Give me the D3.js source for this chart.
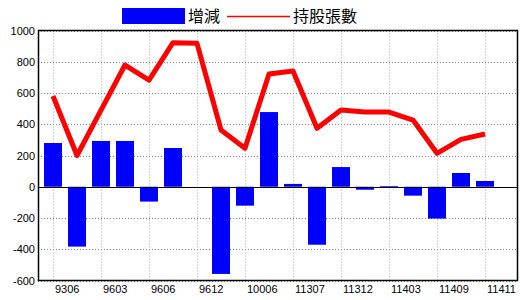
<!DOCTYPE html>
<html>
<head>
<meta charset="utf-8">
<title>持股張數</title>
<script src="https://cdn.jsdelivr.net/npm/d3@7"></script>
<style>
  body { margin: 0; background: #fff; }
  text { font-family: "Liberation Sans", Arial, sans-serif; }
</style>
</head>
<body>
<div id="chart"></div>
<script>
// periods (ROC year + month); only every other one is labelled on the axis
var periods = ["9306", "9312", "9603", "9604", "9606", "9609", "9612", "10003", "10006", "11306",
               "11307", "11309", "11312", "11401", "11403", "11406", "11409", "11410", "11411"];
// 增減 (change)
var changes = [280, -383, 293, 293, -95, 248, 0, -558, -121, 478,
               18, -371, 126, -19, 5, -57, -204, 88, 37];
// 持股張數 (shares held)
var holdings = [581, 200, 490, 779, 683, 922, 918, 363, 246, 722,
                741, 374, 491, 478, 478, 427, 214, 303, 338];
var yTicks = [-600, -400, -200, 0, 200, 400, 600, 800, 1000];

var W = 520, H = 300;
var plot = {left: 38, right: 517, top: 30.5, bottom: 280.5};

var svg = d3.select("#chart").append("svg")
    .attr("width", W).attr("height", H);

var x = d3.scaleBand()
    .domain(periods)
    .range([41, 497])
    .paddingInner(0.25)
    .paddingOuter(0.125);

var y = d3.scaleLinear()
    .domain([-600, 1000])
    .range([plot.bottom, plot.top]);

function cx(p) { return x(p) + x.bandwidth() / 2; }

// horizontal grid
svg.append("g").selectAll("line")
  .data(yTicks.filter(function(d) { return d !== 0; }))
  .enter().append("line")
    .attr("x1", plot.left).attr("x2", plot.right)
    .attr("y1", function(d) { return Math.round(y(d)) + 0.5; })
    .attr("y2", function(d) { return Math.round(y(d)) + 0.5; })
    .attr("stroke", "#8c8c8c")
    .attr("stroke-dasharray", "1,2");

// vertical grid on the labelled periods
var labelled = periods.filter(function(d, i) { return i % 2 === 0; });
svg.append("g").selectAll("line")
  .data(labelled)
  .enter().append("line")
    .attr("x1", function(d) { return Math.round(cx(d)) + 0.5; })
    .attr("x2", function(d) { return Math.round(cx(d)) + 0.5; })
    .attr("y1", plot.top).attr("y2", plot.bottom)
    .attr("stroke", "#9fb0c3")
    .attr("stroke-dasharray", "1,2");

// bars
svg.append("g").selectAll("rect")
  .data(periods)
  .enter().append("rect")
    .attr("x", function(d) { return x(d); })
    .attr("width", x.bandwidth())
    .attr("y", function(d, i) { return y(Math.max(0, changes[i])); })
    .attr("height", function(d, i) { return Math.abs(y(changes[i]) - y(0)); })
    .attr("fill", "#0000ff");

// zero line
svg.append("line")
    .attr("x1", plot.left).attr("x2", plot.right)
    .attr("y1", Math.round(y(0)) + 0.5).attr("y2", Math.round(y(0)) + 0.5)
    .attr("stroke", "#000");

// holdings line
var line = d3.line()
    .x(function(d, i) { return cx(periods[i]); })
    .y(function(d) { return y(d); });

svg.append("path")
    .datum(holdings)
    .attr("d", line)
    .attr("fill", "none")
    .attr("stroke", "#ff0000")
    .attr("stroke-width", 5)
    .attr("stroke-linejoin", "round");

// frame
svg.append("rect")
    .attr("x", plot.left + 0.5).attr("y", plot.top)
    .attr("width", plot.right - plot.left).attr("height", plot.bottom - plot.top)
    .attr("fill", "none")
    .attr("stroke", "#000")
    .attr("stroke-width", 1.5);

// y labels
svg.append("g").selectAll("text")
  .data(yTicks)
  .enter().append("text")
    .attr("x", 35)
    .attr("y", function(d) { return y(d) + 4; })
    .attr("text-anchor", "end")
    .attr("font-size", 11)
    .text(function(d) { return d; });

// x labels, left aligned on the tick
svg.append("g").selectAll("text")
  .data(labelled)
  .enter().append("text")
    .attr("x", function(d) { return cx(d) + 2; })
    .attr("y", 293)
    .attr("font-size", 11)
    .text(function(d) { return d; });

// legend
var legend = svg.append("g");
legend.append("rect")
    .attr("x", 122).attr("y", 8).attr("width", 63).attr("height", 16)
    .attr("fill", "#0000ff");
legend.append("text")
    .attr("x", 188).attr("y", 22)
    .attr("font-size", 16)
    .style("font-family", "'Noto Sans CJK TC', sans-serif")
    .text("增減");
legend.append("line")
    .attr("x1", 227).attr("x2", 290).attr("y1", 16.5).attr("y2", 16.5)
    .attr("stroke", "#ff0000").attr("stroke-width", 1.5);
legend.append("text")
    .attr("x", 293).attr("y", 22)
    .attr("font-size", 16)
    .style("font-family", "'Noto Sans CJK TC', sans-serif")
    .text("持股張數");
</script>
</body>
</html>
